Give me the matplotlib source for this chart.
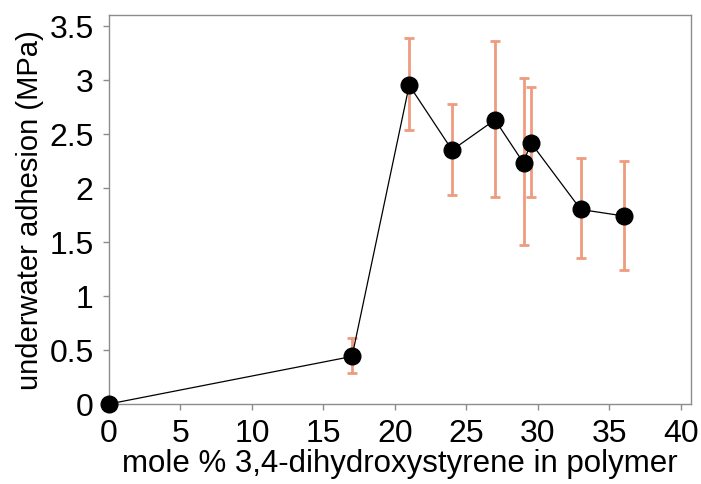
import matplotlib.pyplot as plt

# data
mole_pct = [0, 17, 21, 24, 27, 29, 29.5, 33, 36]
adhesion = [0, 0.44, 2.95, 2.35, 2.63, 2.23, 2.42, 1.80, 1.74]
err_hi = [None, 0.61, 3.39, 2.78, 3.36, 3.02, 2.93, 2.28, 2.25]
err_lo = [None, 0.29, 2.54, 1.93, 1.92, 1.47, 1.92, 1.35, 1.24]

xticks = [0, 5, 10, 15, 20, 25, 30, 35, 40]
yticks = [0, 0.5, 1, 1.5, 2, 2.5, 3, 3.5]
ytick_labels = ["0", "0.5", "1", "1.5", "2", "2.5", "3", "3.5"]

plt.rcParams['font.family'] = ['Liberation Sans', 'DejaVu Sans']

fig = plt.figure(figsize=(7.01, 4.85), dpi=100)
ax = fig.add_axes([0.1555, 0.165, 0.830, 0.802])

# error bars only for points that have them
ex, ey, lo, hi = [], [], [], []
for x, y, h, l in zip(mole_pct, adhesion, err_hi, err_lo):
    if h is None:
        continue
    ex.append(x); ey.append(y)
    lo.append(y - l); hi.append(h - y)
ax.errorbar(ex, ey, yerr=[lo, hi], fmt='none', ecolor='#ee9c80',
            elinewidth=2.0, capsize=3.5, capthick=2.0, zorder=2)

ax.plot(mole_pct, adhesion, color='black', lw=0.9, marker='o',
        markersize=12, markerfacecolor='black', markeredgecolor='black',
        zorder=3, clip_on=False)

ax.set_xlim(0, 40.7)
ax.set_ylim(0, 3.6)
ax.set_xticks(xticks)
ax.set_yticks(yticks)
ax.set_yticklabels(ytick_labels)

for s in ax.spines.values():
    s.set_color('#8c8c8c')
    s.set_linewidth(1.0)
ax.tick_params(direction='out', length=4, width=1, color='#8c8c8c',
               labelsize=23)
ax.tick_params(axis='x', pad=6)
ax.tick_params(axis='y', pad=7)

ax.set_xlabel("mole % 3,4-dihydroxystyrene in polymer", fontsize=22.5, labelpad=0)
ax.set_ylabel("underwater adhesion (MPa)", fontsize=21, labelpad=4)

fig.savefig("out.png", dpi=100)
